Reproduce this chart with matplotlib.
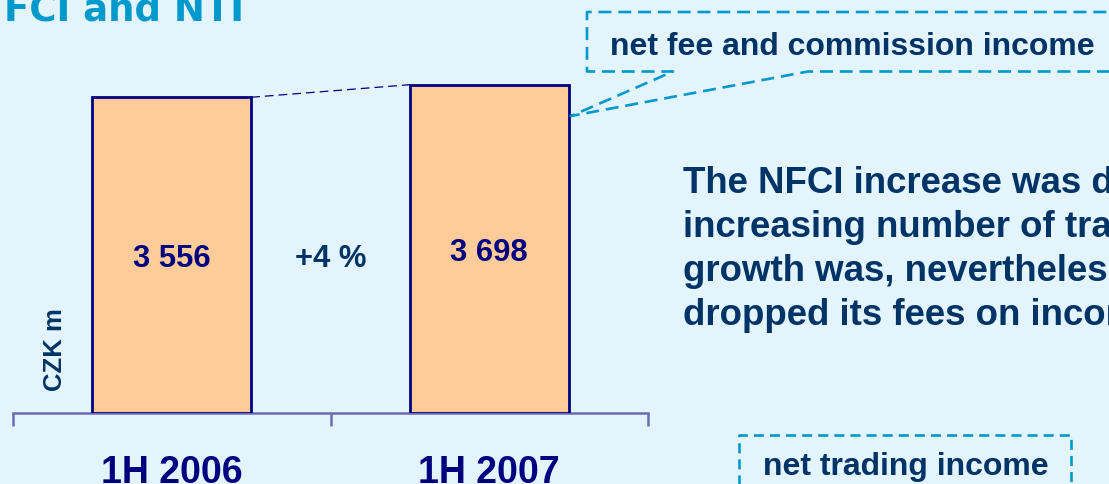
import matplotlib.pyplot as plt
from matplotlib.lines import Line2D

# NFCI by half-year, CZK m
periods = ['1H 2006', '1H 2007']
nfci = [3556, 3698]
value_labels = ['3 556', '3 698']
growth_label = '+4 %'

title = 'FCI and NTI'
unit_label = 'CZK m'
nfci_box_label = 'net fee and commission income'
nti_box_label = 'net trading income'
comment_lines = [
    'The NFCI increase was driven by',
    'increasing number of transactions',
    'growth was, nevertheless, slowed',
    'dropped its fees on incoming',
]

BG = '#E3F4FC'
NAVY = '#000080'
DARK = '#003366'
CYAN = '#0099CC'
AXIS = '#6b6bb5'

W, H = 1109, 485
fig = plt.figure(figsize=(W / 100, H / 100), dpi=100, facecolor=BG)


def px(x, y):
    """Pixel position (from top-left) to figure fraction."""
    return x / W, 1 - y / H


ax = fig.add_axes([13 / W, 1 - 413.7 / H, 635 / W, 413.7 / H])
ax.set_facecolor('none')
x = list(range(len(periods)))
ax.bar(x, nfci, width=0.5, color='#FFCC99', edgecolor=NAVY,
       linewidth=2, zorder=3)
ax.set_xlim(-0.5, 1.5)
ax.set_ylim(0, 4664)

for side in ['top', 'right', 'left']:
    ax.spines[side].set_visible(False)
ax.spines['bottom'].set_color(AXIS)
ax.spines['bottom'].set_linewidth(1.8)
ax.set_yticks([])

# category separators as major ticks, category names as minor ticks
ax.set_xticks([-0.5, 0.5, 1.5])
ax.set_xticklabels([])
ax.tick_params(axis='x', which='major', length=9, width=1.8, color=AXIS)
ax.set_xticks(x, minor=True)
ax.set_xticklabels(periods, minor=True, fontsize=27, fontweight='bold',
                   color=NAVY, family='Liberation Sans')
ax.tick_params(axis='x', which='minor', length=0, pad=29.7)

# values inside the bars
for xi, v, lab in zip(x, nfci, value_labels):
    ax.text(xi, v / 2, lab, ha='center', va='center_baseline', fontsize=22.3,
            fontweight='bold', color=NAVY, family='Liberation Sans', zorder=4)

# growth between the two bars
ax.plot([0.25, 0.75], [nfci[0], nfci[1]], color=NAVY, lw=0.9,
        dashes=(7, 4), zorder=2)
ax.text(0.5, nfci[0] / 2, growth_label, ha='center', va='center_baseline',
        fontsize=22.3, fontweight='bold', color=DARK, family='Liberation Sans')

fig.text(*px(67, 349.5), unit_label, rotation=90, ha='right', va='center',
         fontsize=18.5, fontweight='bold', color=DARK, family='Liberation Sans')

fig.text(*px(4, 20.7), title, va='baseline', fontsize=26.7, fontweight='bold',
         color=CYAN, family='DejaVu Sans')

# callout box for the NFCI label, pointing at the 2007 bar
callout = [(1120, 72.5), (808, 72.5), (571, 117), (673, 72.5), (587, 72.5),
           (587, 13), (1120, 13)]
cx, cy = zip(*[px(a, b) for a, b in callout])
fig.add_artist(Line2D(cx, cy, transform=fig.transFigure, color=CYAN, lw=1.9,
                      dashes=(4.9, 2.6), solid_joinstyle='miter'))
fig.text(*px(610, 55), nfci_box_label, va='baseline', fontsize=23,
         fontweight='bold', color=DARK, family='Liberation Sans')

# box for the NTI label
nti_box = [(739, 500), (739, 436), (1071, 436), (1071, 500)]
bx, by = zip(*[px(a, b) for a, b in nti_box])
fig.add_artist(Line2D(bx, by, transform=fig.transFigure, color=CYAN, lw=1.9,
                      dashes=(3.8, 2.3)))
fig.text(*px(763, 475), nti_box_label, va='baseline', fontsize=23,
         fontweight='bold', color=DARK, family='Liberation Sans')

for i, line in enumerate(comment_lines):
    fig.text(*px(683, 193.3 + i * 43.9), line, va='baseline', fontsize=26.4,
             fontweight='bold', color=DARK, family='Liberation Sans')

fig.savefig('out.png', dpi=100, facecolor=BG)
